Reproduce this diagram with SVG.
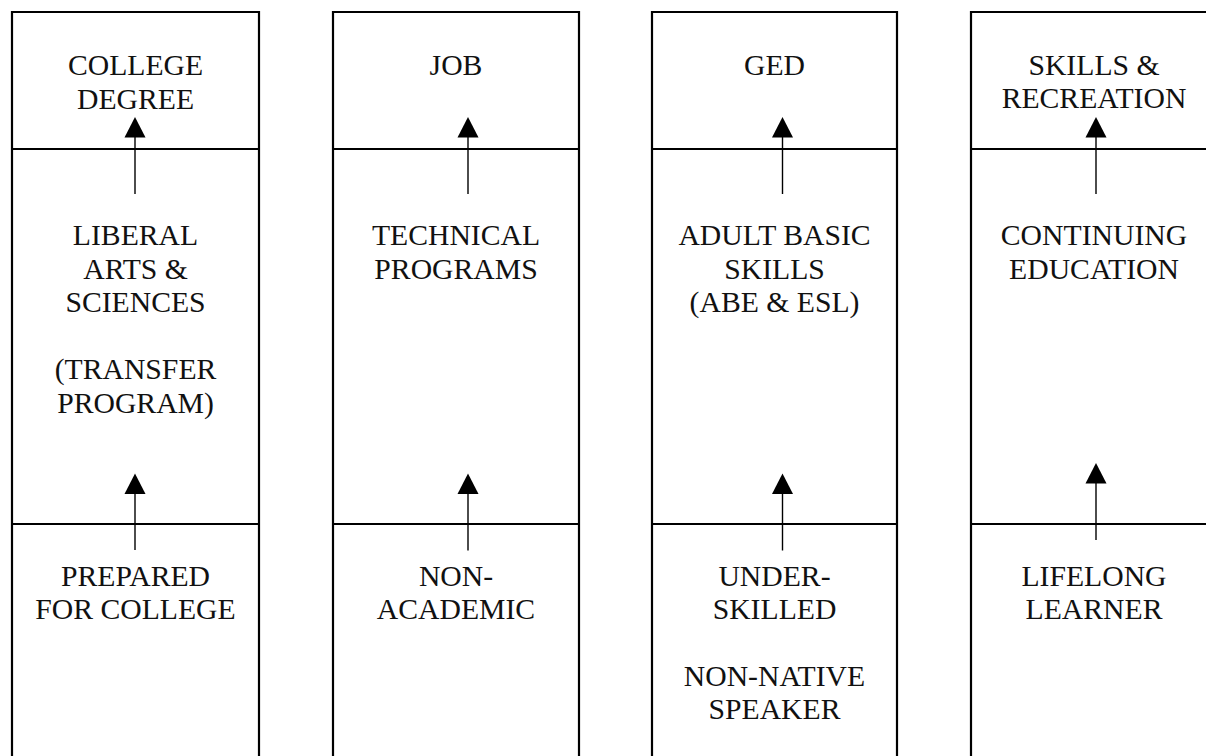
<svg xmlns="http://www.w3.org/2000/svg" width="1206" height="756" viewBox="0 0 1206 756">
  <style>
    .frame { fill: none; stroke: #000; stroke-width: 2.2; }
    .rule { stroke: #000; stroke-width: 2.2; }
    .shaft { stroke: #000; stroke-width: 1.4; fill: none; }
    .head { fill: #000; }
    text { font-family: "Liberation Serif", "Times New Roman", serif; font-size: 29.7px; fill: #111; text-anchor: middle; }
  </style>
  <rect width="1206" height="756" fill="#fff"/>

  <!-- Column 1: transfer track -->
  <g id="col-transfer">
    <path class="frame" d="M12,760 V12 H259 V760"/>
    <line class="rule" x1="12" y1="149" x2="259" y2="149"/>
    <line class="rule" x1="12" y1="524" x2="259" y2="524"/>
    <text x="135.5" y="75">COLLEGE</text>
    <text x="135.5" y="108.5">DEGREE</text>
    <text x="135.5" y="245">LIBERAL</text>
    <text x="135.5" y="278.5">ARTS &amp;</text>
    <text x="135.5" y="312">SCIENCES</text>
    <text x="135.5" y="379">(TRANSFER</text>
    <text x="135.5" y="412.5">PROGRAM)</text>
    <text x="135.5" y="585.5">PREPARED</text>
    <text x="135.5" y="619">FOR COLLEGE</text>
  </g>

  <!-- Column 2: technical track -->
  <g id="col-technical">
    <path class="frame" d="M333,760 V12 H579 V760"/>
    <line class="rule" x1="333" y1="149" x2="579" y2="149"/>
    <line class="rule" x1="333" y1="524" x2="579" y2="524"/>
    <text x="456" y="74.5">JOB</text>
    <text x="456" y="245">TECHNICAL</text>
    <text x="456" y="278.5">PROGRAMS</text>
    <text x="456" y="585.5">NON-</text>
    <text x="456" y="619">ACADEMIC</text>
  </g>

  <!-- Column 3: basic skills track -->
  <g id="col-basic">
    <path class="frame" d="M652,760 V12 H897 V760"/>
    <line class="rule" x1="652" y1="149" x2="897" y2="149"/>
    <line class="rule" x1="652" y1="524" x2="897" y2="524"/>
    <text x="774.5" y="74.5">GED</text>
    <text x="774.5" y="245">ADULT BASIC</text>
    <text x="774.5" y="278.5">SKILLS</text>
    <text x="774.5" y="312">(ABE &amp; ESL)</text>
    <text x="774.5" y="585.5">UNDER-</text>
    <text x="774.5" y="619">SKILLED</text>
    <text x="774.5" y="685.5">NON-NATIVE</text>
    <text x="774.5" y="719">SPEAKER</text>
  </g>

  <!-- Column 4: continuing education track -->
  <g id="col-continuing">
    <path class="frame" d="M971,760 V12 H1217"/>
    <line class="rule" x1="971" y1="149" x2="1217" y2="149"/>
    <line class="rule" x1="971" y1="524" x2="1217" y2="524"/>
    <text x="1094" y="74.5">SKILLS &amp;</text>
    <text x="1094" y="108">RECREATION</text>
    <text x="1094" y="245">CONTINUING</text>
    <text x="1094" y="278.5">EDUCATION</text>
    <text x="1094" y="585.5">LIFELONG</text>
    <text x="1094" y="619">LEARNER</text>
  </g>

  <!-- Upward arrows between levels -->
  <g id="connectors">
    <line class="shaft" x1="135" y1="136" x2="135" y2="194"/>
    <polygon class="head" points="135,117 124.5,137.5 145.5,137.5"/>
    <line class="shaft" x1="135" y1="493" x2="135" y2="550"/>
    <polygon class="head" points="135,473.5 124.5,494 145.5,494"/>

    <line class="shaft" x1="468" y1="136" x2="468" y2="194"/>
    <polygon class="head" points="468,117 457.5,137.5 478.5,137.5"/>
    <line class="shaft" x1="468" y1="493" x2="468" y2="550.5"/>
    <polygon class="head" points="468,473.5 457.5,494 478.5,494"/>

    <line class="shaft" x1="782.5" y1="136" x2="782.5" y2="194"/>
    <polygon class="head" points="782.5,117 772,137.5 793,137.5"/>
    <line class="shaft" x1="782.5" y1="493" x2="782.5" y2="550.5"/>
    <polygon class="head" points="782.5,473.5 772,494 793,494"/>

    <line class="shaft" x1="1096" y1="136" x2="1096" y2="194"/>
    <polygon class="head" points="1096,117 1085.5,137.5 1106.5,137.5"/>
    <line class="shaft" x1="1096" y1="482" x2="1096" y2="540"/>
    <polygon class="head" points="1096,463 1085.5,483.5 1106.5,483.5"/>
  </g>
</svg>
